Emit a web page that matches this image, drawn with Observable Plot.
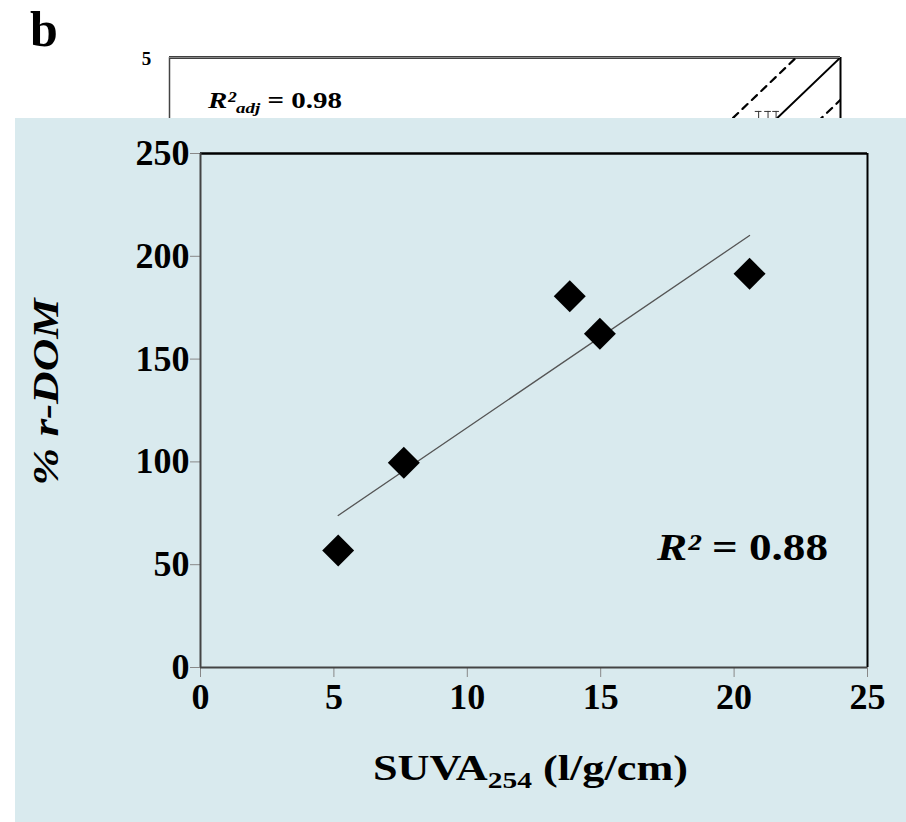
<!DOCTYPE html>
<html>
<head>
<meta charset="utf-8">
<script src="https://cdn.jsdelivr.net/npm/d3@7"></script>
<script src="https://cdn.jsdelivr.net/npm/@observablehq/plot@0.6"></script>
<style>
  html, body { margin: 0; padding: 0; background: #fff; }
  #wrap { position: relative; width: 906px; height: 822px; overflow: hidden; font-family: "Liberation Serif", "Times New Roman", serif; }
  #bg { position: absolute; left: 0; top: 0; }
  #main { position: absolute; left: 15px; top: 118px; }
  #panelLabel { position: absolute; left: 30px; top: 4px; font: bold 50px "Liberation Serif", "Times New Roman", serif; line-height: 50px; }
</style>
</head>
<body>
<div id="wrap">
  <div id="bg"></div>
  <div id="panelLabel">b</div>
  <div id="main"></div>
</div>
<script>
// ---- Main chart data: SUVA254 vs % r-DOM ----
const suva = [5.16, 7.62, 13.84, 14.97, 20.58];
const rdom = [56.9, 99.6, 180.6, 162.3, 191.5];
const xTicks = [0, 5, 10, 15, 20, 25];
const yTicks = [0, 50, 100, 150, 200, 250];
const r2Text = "0.88";

// ---- Background (partly hidden) chart data ----
const bgLineX = [0, 5];
const bgLineY = [0, 5];
const bgUpperY = [0.33, 5.33];
const bgLowerY = [-0.33, 4.67];
const bgErrX = [4.39, 4.46, 4.52];
const bgErrTop = [4.58, 4.58, 4.58];
const bgYTicks = [5];
const bgR2adj = "0.98";

const FONT = "Liberation Serif, Times New Roman, serif";
const points = suva.map((x, i) => ({x, y: rdom[i]}));
const solid = bgLineX.map((x, i) => ({x, y: bgLineY[i]}));
const upper = bgLineX.map((x, i) => ({x, y: bgUpperY[i]}));
const lower = bgLineX.map((x, i) => ({x, y: bgLowerY[i]}));
const errs = bgErrX.map((x, i) => ({x, y: bgErrTop[i]}));

// Background chart
const bg = Plot.plot({
  width: 906, height: 822,
  marginLeft: 169, marginRight: 66, marginTop: 57, marginBottom: 123,
  x: {domain: [0, 5], axis: null},
  y: {domain: [0, 5], axis: null},
  style: {fontFamily: FONT, background: "transparent", overflow: "visible"},
  marks: [
    Plot.line(solid, {x: "x", y: "y", stroke: "black", strokeWidth: 2, clip: "frame"}),
    Plot.line(upper, {x: "x", y: "y", stroke: "black", strokeWidth: 2.2, strokeDasharray: "7,6", clip: "frame"}),
    Plot.line(lower, {x: "x", y: "y", stroke: "black", strokeWidth: 2.2, strokeDasharray: "7,6", clip: "frame"}),
    Plot.ruleX(errs, {x: "x", y1: "y", y2: d => d.y - 0.3, stroke: "#333", strokeWidth: 1}),
    Plot.ruleY(errs, {y: "y", x1: d => d.x - 0.025, x2: d => d.x + 0.025, stroke: "#333", strokeWidth: 1}),
    Plot.ruleY([5], {stroke: "black", strokeWidth: 2.5}),
    Plot.ruleX([5], {stroke: "black", strokeWidth: 2}),
    Plot.ruleX([0], {stroke: "#444", strokeWidth: 1.5}),
    Plot.tickY(bgYTicks, {y: d => d, x1: -0.05, x2: 0, stroke: "#888", strokeWidth: 1}),
    Plot.text(bgYTicks, {x: 0, y: d => d, text: d => String(d), dx: -23, dy: 1, fontSize: 19, fontWeight: "bold", textAnchor: "middle", fill: "black"})
  ]
});
// R²adj annotation
{
  const svg = d3.select(bg);
  const t = svg.append("text").attr("x", 208).attr("y", 108).attr("text-anchor", "start")
    .attr("font-family", FONT).attr("font-weight", "bold").attr("font-size", 23)
    .attr("textLength", 134).attr("lengthAdjust", "spacingAndGlyphs");
  t.append("tspan").attr("font-style", "italic").text("R²");
  t.append("tspan").attr("font-style", "italic").attr("font-size", 15).attr("dy", 5).text("adj");
  t.append("tspan").attr("dy", -5).text(" = " + bgR2adj);
}
document.getElementById("bg").appendChild(bg);

// Main chart
const main = Plot.plot({
  width: 891, height: 704,
  marginLeft: 185, marginRight: 39, marginTop: 35, marginBottom: 155,
  x: {domain: [0, 25]},
  y: {domain: [0, 250]},
  style: {fontFamily: FONT, background: "#d9eaee", color: "black"},
  marks: [
    Plot.axisX({ticks: xTicks, tickSize: 10, tickPadding: 6, fontSize: 36, fontWeight: "bold", stroke: "#888", label: null}),
    Plot.axisY({ticks: yTicks, tickSize: 10, tickPadding: 1, fontSize: 36, fontWeight: "bold", stroke: "#888", label: null}),
    Plot.ruleY([250], {stroke: "black", strokeWidth: 2.5}),
    Plot.ruleX([25], {stroke: "black", strokeWidth: 2}),
    Plot.ruleX([0], {stroke: "#444", strokeWidth: 2}),
    Plot.ruleY([0], {stroke: "#444", strokeWidth: 2}),
    Plot.linearRegressionY(points, {x: "x", y: "y", ci: 0, stroke: "#555", strokeWidth: 1.3}),
    Plot.dot(points, {x: "x", y: "y", symbol: "diamond2", r: 14.4, fill: "black", stroke: "none"})
  ]
});
{
  const svg = d3.select(main);
  // x-axis title
  const xl = svg.append("text").attr("x", 358).attr("y", 662).attr("text-anchor", "start")
    .attr("font-family", FONT).attr("font-weight", "bold").attr("font-size", 36)
    .attr("textLength", 315).attr("lengthAdjust", "spacingAndGlyphs");
  xl.append("tspan").text("SUVA");
  xl.append("tspan").attr("font-size", 24).attr("dy", 8).text("254");
  xl.append("tspan").attr("dy", -8).text(" (l/g/cm)");
  // y-axis title
  svg.append("text").attr("transform", "translate(43,274) rotate(-90)")
    .attr("text-anchor", "middle")
    .attr("font-family", FONT).attr("font-weight", "bold").attr("font-style", "italic").attr("font-size", 36)
    .attr("textLength", 187).attr("lengthAdjust", "spacingAndGlyphs")
    .text("% r-DOM");
  // R² annotation
  const r = svg.append("text").attr("x", 642).attr("y", 442).attr("text-anchor", "start")
    .attr("font-family", FONT).attr("font-weight", "bold").attr("font-size", 38)
    .attr("textLength", 171).attr("lengthAdjust", "spacingAndGlyphs");
  r.append("tspan").attr("font-style", "italic").text("R²");
  r.append("tspan").text(" = " + r2Text);
}
document.getElementById("main").appendChild(main);
</script>
</body>
</html>
